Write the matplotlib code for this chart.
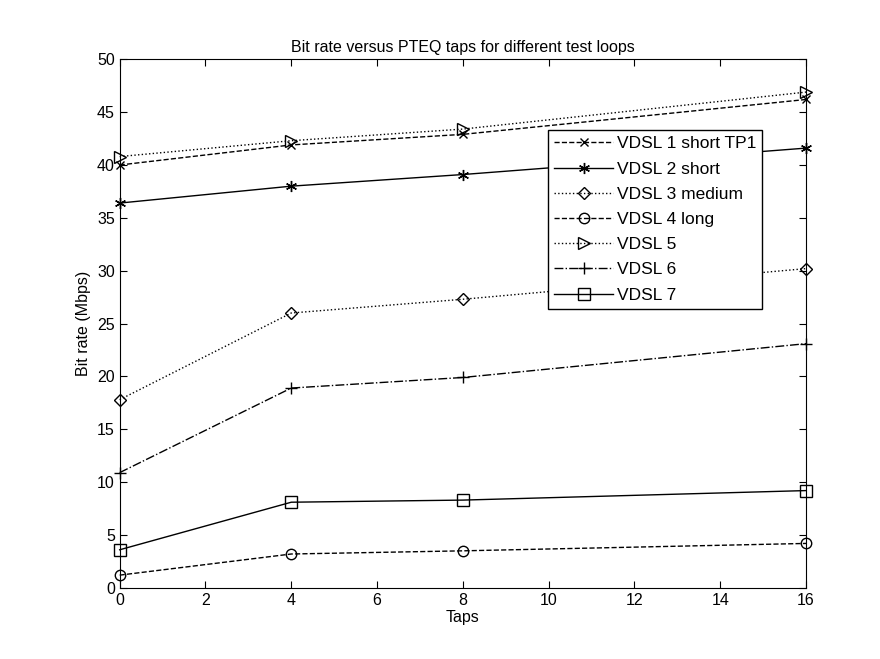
import matplotlib.pyplot as plt

plt.rcParams['font.family'] = ['Liberation Sans', 'DejaVu Sans']

# ---------- DATA ----------
taps = [0, 4, 8, 16]
vdsl1 = [40.0, 41.9, 42.9, 46.2]
vdsl2 = [36.4, 38.0, 39.1, 41.6]
vdsl3 = [17.8, 26.0, 27.3, 30.2]
vdsl4 = [1.2, 3.2, 3.5, 4.2]
vdsl5 = [40.8, 42.3, 43.4, 46.9]
vdsl6 = [10.9, 18.9, 19.9, 23.1]
vdsl7 = [3.6, 8.1, 8.3, 9.2]
labels = ["VDSL 1 short TP1", "VDSL 2 short", "VDSL 3 medium", "VDSL 4 long",
          "VDSL 5", "VDSL 6", "VDSL 7"]

series = [vdsl1, vdsl2, vdsl3, vdsl4, vdsl5, vdsl6, vdsl7]
# linestyle, marker, marker size
styles = [("--", "x", 6), ("-", (6, 2, 0), 8), (":", "D", 6.5), ("--", "o", 7.5),
          (":", ">", 8), ("-.", "+", 9), ("-", "s", 8)]

fig = plt.figure(figsize=(8.8, 6.59), dpi=100)
ax = fig.add_axes([0.136, 0.108, 0.780, 0.802])

for vals, (ls, mk, ms), lab in zip(series, styles, labels):
    ax.plot(taps, vals, color="black", linestyle=ls, marker=mk, markersize=ms,
            markerfacecolor="none", markeredgecolor="black", linewidth=1.0,
            label=lab, clip_on=False)

ax.set_xlim(0, 16)
ax.set_ylim(0, 50)
ax.set_xticks(range(0, 17, 2))
ax.set_yticks(range(0, 51, 5))
ax.tick_params(direction="in", labelsize=11.5, top=True, right=True, length=5)
ax.set_xlabel("Taps", fontsize=11.5, labelpad=2)
ax.set_ylabel("Bit rate (Mbps)", fontsize=11.5, labelpad=4)
ax.set_title("Bit rate versus PTEQ taps for different test loops", fontsize=11.5, pad=5)

leg = ax.legend(loc="upper left", bbox_to_anchor=(0.624, 0.866), fontsize=12.5,
                frameon=True, fancybox=False, edgecolor="black", framealpha=1,
                handlelength=3.4, handletextpad=0.2, labelspacing=0.58,
                borderpad=0.35, borderaxespad=0)
leg.get_frame().set_linewidth(1.0)

fig.savefig("out.png", dpi=100)
